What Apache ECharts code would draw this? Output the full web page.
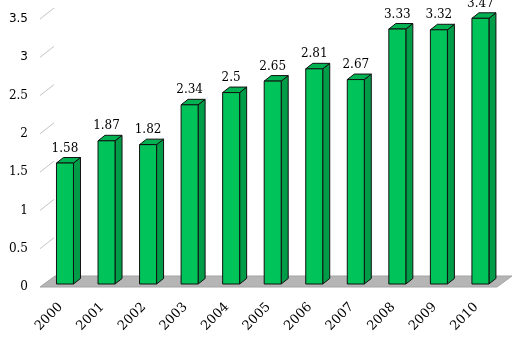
<!DOCTYPE html>
<html>
<head>
<meta charset="utf-8">
<script src="https://cdn.jsdelivr.net/npm/echarts@6/dist/echarts.min.js"></script>
<style>
  html, body { margin: 0; padding: 0; background: #fff; }
  #chart { width: 523px; height: 339px; }
</style>
</head>
<body>
<div id="chart"></div>
<script>
// Yearly values, 2000-2010
const years = ['2000', '2001', '2002', '2003', '2004', '2005', '2006', '2007', '2008', '2009', '2010'];
const values = [1.58, 1.87, 1.82, 2.34, 2.5, 2.65, 2.81, 2.67, 3.33, 3.32, 3.47];
const yTicks = [0.5, 1, 1.5, 2, 2.5, 3, 3.5];

// Pseudo-3D look
const FRONT = '#00c45a';
const SIDE = '#009c48';
const TOP = '#00b252';
const EDGE = '#111';
const BAR_W = 17;
const DEPTH_X = 7, DEPTH_Y = -5.5;      // bar depth
const FLOOR_X = 15, FLOOR_Y = -11;      // floor depth

const chart = echarts.init(document.getElementById('chart'), null, { renderer: 'canvas' });

function renderFloor(params, api) {
  const cs = params.coordSys;
  const yb = cs.y + cs.height;
  return {
    type: 'polygon',
    shape: { points: [[cs.x, yb], [cs.x + cs.width, yb], [cs.x + cs.width + FLOOR_X, yb + FLOOR_Y], [cs.x + FLOOR_X, yb + FLOOR_Y]] },
    style: { fill: '#b5b5b5', stroke: '#a4a4a4', lineWidth: 1 }
  };
}

function renderTick(params, api) {
  const cs = params.coordSys;
  const y = api.coord([0, api.value(1)])[1];
  return {
    type: 'line',
    shape: { x1: cs.x, y1: y, x2: cs.x + 14, y2: y + FLOOR_Y },
    style: { stroke: '#c4c4c4', lineWidth: 1 }
  };
}

function renderBar(params, api) {
  const i = api.value(0);
  const v = api.value(1);
  const base = api.coord([i, 0]);
  const top = api.coord([i, v]);
  const x0 = base[0] - 4.3;
  const x1 = x0 + BAR_W;
  const yb = base[1] - 3;
  const yt = top[1] - 3;
  return {
    type: 'group',
    children: [
      {
        type: 'polygon',
        shape: { points: [[x1, yt], [x1 + DEPTH_X, yt + DEPTH_Y], [x1 + DEPTH_X, yb + DEPTH_Y], [x1, yb]] },
        style: { fill: SIDE, stroke: EDGE, lineWidth: 1 }
      },
      {
        type: 'polygon',
        shape: { points: [[x0, yt], [x0 + DEPTH_X, yt + DEPTH_Y], [x1 + DEPTH_X, yt + DEPTH_Y], [x1, yt]] },
        style: { fill: TOP, stroke: EDGE, lineWidth: 1 }
      },
      {
        type: 'rect',
        shape: { x: x0, y: yt, width: BAR_W, height: yb - yt },
        style: { fill: FRONT, stroke: EDGE, lineWidth: 1 }
      },
      {
        type: 'text',
        style: {
          text: String(values[i]),
          x: (x0 + x1) / 2,
          y: yt + DEPTH_Y - 3,
          align: 'center',
          verticalAlign: 'bottom',
          font: '12px "DejaVu Serif"',
          fill: '#000'
        }
      }
    ]
  };
}

chart.setOption({
  animation: false,
  backgroundColor: '#fff',
  grid: { left: 40, right: 26, top: 19, bottom: 52 },
  xAxis: {
    type: 'category',
    data: years,
    axisLine: { show: false },
    axisTick: { show: false },
    axisLabel: {
      rotate: 45,
      margin: 18,
      color: '#000',
      fontFamily: 'DejaVu Serif',
      fontSize: 13
    }
  },
  yAxis: {
    type: 'value',
    min: 0,
    max: 3.5,
    interval: 0.5,
    axisLine: { show: false },
    axisTick: { show: false },
    splitLine: { show: false },
    axisLabel: {
      margin: 12,
      color: '#000',
      fontFamily: 'DejaVu Serif',
      fontSize: 12,
      formatter: v => (v >= 3 ? '{s|' + v + '}' : String(v)),
      rich: { s: { fontFamily: 'DejaVu Sans', fontSize: 12, color: '#000' } }
    }
  },
  series: [
    { type: 'custom', renderItem: renderFloor, data: [[0, 0]], z: 1, silent: true, clip: false },
    { type: 'custom', renderItem: renderTick, data: yTicks.map(v => [0, v]), z: 2, silent: true, clip: false },
    { type: 'custom', renderItem: renderBar, data: values.map((v, i) => [i, v]), z: 3, clip: false }
  ]
});
</script>
</body>
</html>
